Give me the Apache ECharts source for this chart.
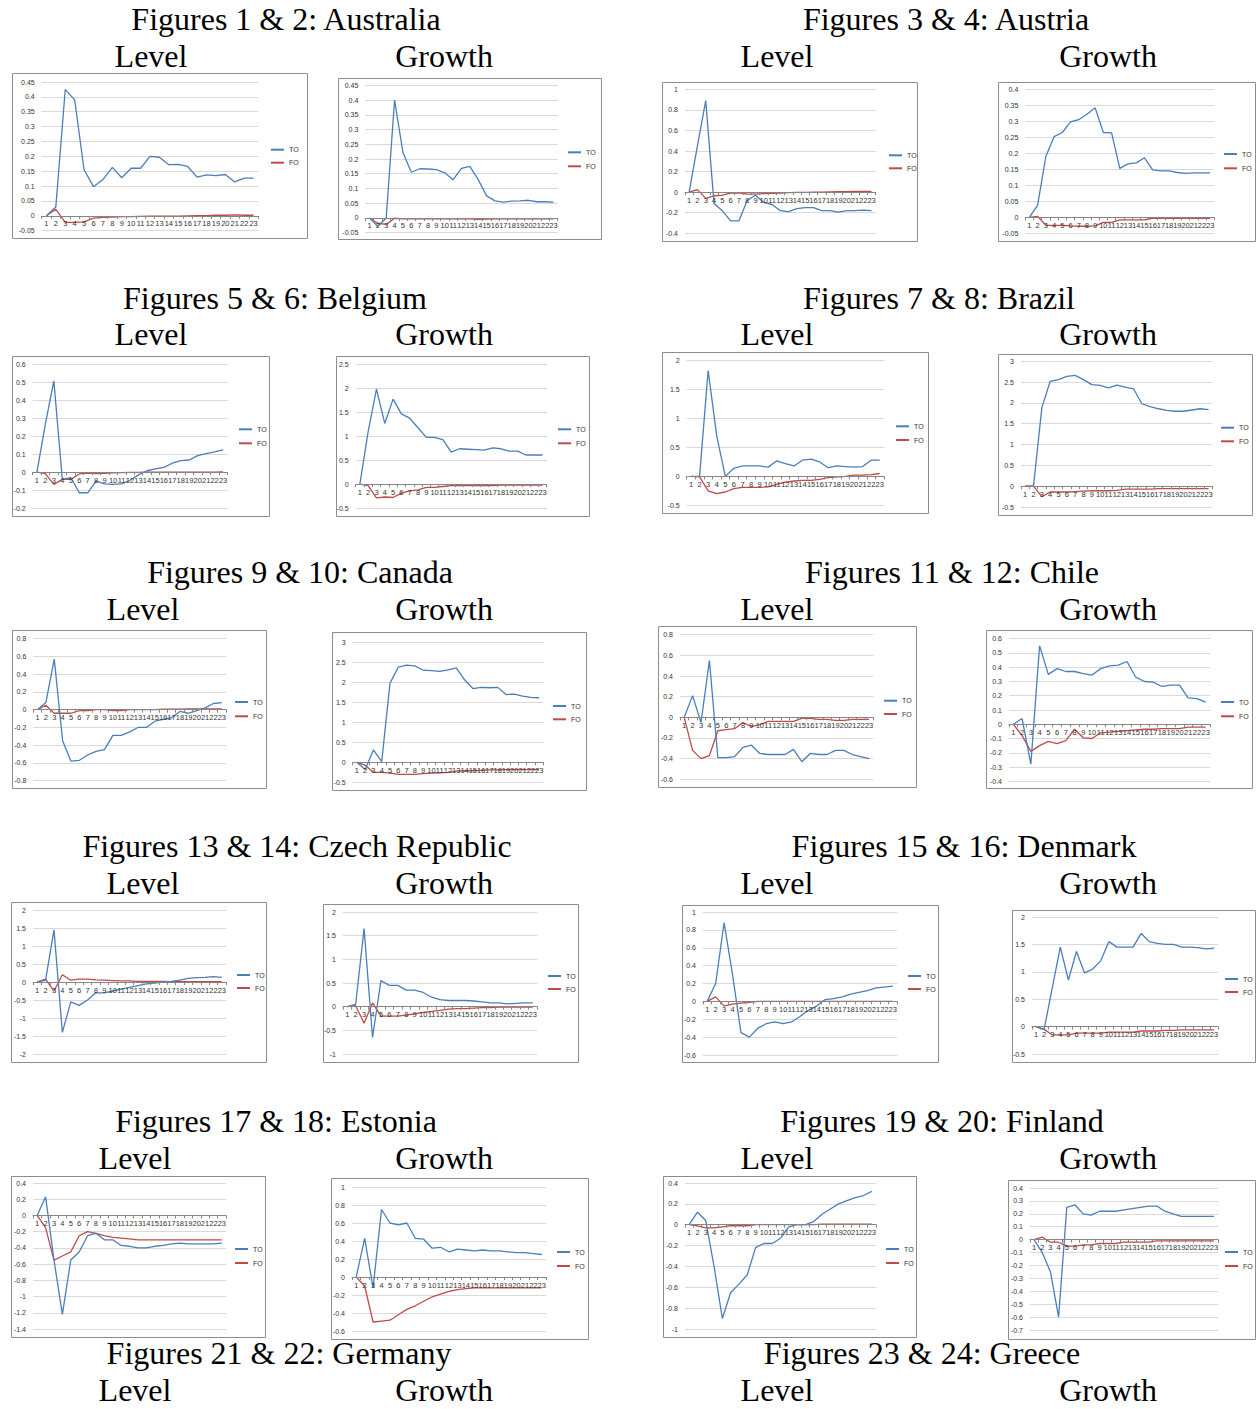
<!DOCTYPE html>
<html><head><meta charset="utf-8">
<script src="https://cdn.jsdelivr.net/npm/echarts@6/dist/echarts.min.js"></script>
<style>html,body{margin:0;padding:0;background:#fff}#c{width:1256px;height:1409px}</style>
</head><body><div id="c"></div>
<script>
const categories = ['1','2','3','4','5','6','7','8','9','10','11','12','13','14','15','16','17','18','19','20','21','22','23'];

const australiaLevelTO = [0,0.03,0.425,0.39,0.155,0.098,0.122,0.163,0.128,0.16,0.16,0.2,0.197,0.172,0.173,0.166,0.13,0.138,0.135,0.139,0.114,0.127,0.127];
const australiaLevelFO = [0,0.022,-0.022,-0.022,-0.02,-0.008,-0.005,-0.004,-0.003,-0.003,-0.002,-0.001,-0.001,-0.001,-0.001,0,0.001,0.001,0.002,0.002,0.003,0.002,0.002];
const australiaGrowthTO = [0,-0.028,0,0.4,0.222,0.155,0.167,0.166,0.164,0.153,0.13,0.168,0.175,0.13,0.075,0.058,0.054,0.057,0.058,0.06,0.055,0.055,0.054];
const australiaGrowthFO = [0,-0.018,-0.022,-0.001,-0.003,-0.003,-0.003,-0.003,-0.003,-0.003,-0.003,-0.003,-0.003,-0.005,-0.004,-0.003,-0.003,-0.003,-0.003,-0.003,-0.003,-0.003,-0.003];

const austriaLevelTO = [0,0.45,0.89,-0.11,-0.18,-0.28,-0.28,-0.08,-0.03,-0.1,-0.12,-0.18,-0.19,-0.16,-0.15,-0.15,-0.18,-0.18,-0.195,-0.18,-0.18,-0.175,-0.18];
const austriaLevelFO = [0,0.025,-0.06,-0.035,-0.03,-0.01,-0.008,-0.02,-0.02,-0.015,-0.012,-0.008,-0.005,-0.003,-0.002,-0.001,0,0.002,0.004,0.006,0.008,0.008,0.008];
const austriaGrowthTO = [0,0.038,0.19,0.252,0.265,0.298,0.305,0.322,0.342,0.265,0.264,0.153,0.167,0.17,0.186,0.148,0.145,0.145,0.14,0.137,0.139,0.139,0.139];
const austriaGrowthFO = [0,0.003,-0.025,-0.025,-0.025,-0.027,-0.028,-0.028,-0.027,-0.016,-0.016,-0.008,-0.008,-0.008,-0.008,-0.003,-0.003,-0.003,-0.003,-0.003,-0.003,-0.003,-0.003];

const belgiumLevelTO = [0,0.27,0.51,-0.04,-0.03,-0.115,-0.115,-0.05,-0.065,-0.068,-0.065,-0.045,-0.015,0.008,0.018,0.027,0.05,0.065,0.068,0.092,0.103,0.113,0.125];
const belgiumLevelFO = [0,-0.008,-0.068,-0.04,-0.04,-0.01,-0.005,-0.008,-0.006,-0.004,-0.002,-0.001,-0.001,0,0,0,0,0,0,0,0,0,0.001];
const belgiumGrowthTO = [0,1.1,1.99,1.27,1.78,1.47,1.38,1.18,0.98,0.98,0.93,0.67,0.74,0.73,0.72,0.71,0.76,0.74,0.69,0.69,0.61,0.61,0.61];
const belgiumGrowthFO = [0,-0.03,-0.29,-0.27,-0.28,-0.19,-0.14,-0.12,-0.07,-0.07,-0.05,-0.03,-0.03,-0.03,-0.03,-0.03,-0.03,-0.02,-0.02,-0.02,-0.02,-0.02,-0.02];

const brazilLevelTO = [0,0,1.83,0.7,0,0.14,0.18,0.18,0.18,0.16,0.27,0.22,0.18,0.28,0.3,0.25,0.15,0.18,0.17,0.16,0.17,0.28,0.28];
const brazilLevelFO = [0,-0.01,-0.25,-0.3,-0.27,-0.21,-0.19,-0.19,-0.19,-0.18,-0.14,-0.1,-0.08,-0.07,-0.07,-0.05,-0.02,-0.01,0,0.02,0.02,0.03,0.05];
const brazilGrowthTO = [0,0,1.88,2.52,2.56,2.64,2.66,2.56,2.44,2.42,2.36,2.43,2.38,2.34,1.98,1.91,1.86,1.82,1.8,1.8,1.83,1.86,1.84];
const brazilGrowthFO = [0,0,-0.25,-0.14,-0.14,-0.14,-0.13,-0.12,-0.11,-0.11,-0.11,-0.1,-0.07,-0.07,-0.07,-0.07,-0.06,-0.06,-0.06,-0.06,-0.06,-0.06,-0.06];

const canadaLevelTO = [0,0.08,0.57,-0.35,-0.58,-0.57,-0.51,-0.47,-0.45,-0.29,-0.29,-0.25,-0.2,-0.2,-0.13,-0.11,-0.09,-0.02,-0.04,-0.01,0.02,0.07,0.08];
const canadaLevelFO = [0,0.05,-0.04,-0.04,-0.04,-0.01,-0.01,0,0,-0.01,-0.01,0,0,0,0,0.005,0.005,0.005,0.01,0.01,0.01,0.01,0.01];
const canadaGrowthTO = [0,-0.18,0.31,0.02,1.98,2.39,2.44,2.42,2.31,2.3,2.28,2.32,2.37,2.07,1.85,1.88,1.87,1.88,1.7,1.71,1.66,1.63,1.62];
const canadaGrowthFO = [0,-0.07,-0.25,-0.25,-0.27,-0.3,-0.3,-0.3,-0.28,-0.27,-0.26,-0.25,-0.22,-0.21,-0.21,-0.2,-0.19,-0.19,-0.18,-0.18,-0.18,-0.18,-0.18];

const chileLevelTO = [0,0.21,-0.05,0.55,-0.39,-0.39,-0.38,-0.29,-0.27,-0.35,-0.36,-0.36,-0.36,-0.31,-0.43,-0.35,-0.36,-0.36,-0.32,-0.32,-0.36,-0.38,-0.4];
const chileLevelFO = [0,-0.32,-0.4,-0.37,-0.13,-0.12,-0.11,-0.05,-0.09,-0.07,-0.04,-0.04,-0.04,-0.04,-0.01,-0.01,-0.02,-0.02,-0.03,-0.03,-0.02,-0.02,-0.02];
const chileGrowthTO = [0,0.04,-0.28,0.55,0.35,0.39,0.37,0.37,0.355,0.345,0.39,0.41,0.415,0.44,0.33,0.3,0.295,0.265,0.275,0.275,0.185,0.18,0.155];
const chileGrowthFO = [0,-0.08,-0.19,-0.15,-0.12,-0.135,-0.115,-0.035,-0.095,-0.1,-0.06,-0.055,-0.05,-0.045,-0.04,-0.035,-0.035,-0.03,-0.03,-0.03,-0.02,-0.02,-0.02];

const czechLevelTO = [0,0.05,1.45,-1.4,-0.55,-0.65,-0.5,-0.3,-0.3,-0.25,-0.2,-0.15,-0.1,-0.05,-0.03,0,0.02,0.05,0.1,0.12,0.13,0.15,0.13];
const czechLevelFO = [0,0.08,-0.25,0.2,0.05,0.08,0.08,0.06,0.05,0.04,0.03,0.03,0.02,0.02,0.02,0.02,0.01,0.01,0.01,0.01,0.01,0.01,0.01];
const czechGrowthTO = [0,0.05,1.65,-0.65,0.55,0.45,0.45,0.35,0.35,0.3,0.2,0.15,0.13,0.13,0.13,0.12,0.1,0.08,0.08,0.06,0.07,0.08,0.08];
const czechGrowthFO = [0,0.02,-0.35,0.08,-0.2,-0.2,-0.2,-0.18,-0.15,-0.12,-0.1,-0.08,-0.05,-0.04,-0.04,-0.03,-0.02,-0.02,-0.01,-0.01,-0.01,-0.01,-0.01];

const denmarkLevelTO = [0,0.2,0.88,0.3,-0.35,-0.4,-0.3,-0.25,-0.23,-0.25,-0.23,-0.17,-0.1,-0.05,0.02,0.03,0.05,0.08,0.1,0.12,0.15,0.16,0.17];
const denmarkLevelFO = [0,0.05,-0.05,-0.03,-0.02,-0.01,0,0,0,0,0,0,0,0,0,0,0,0,0,0,0,0,0];
const denmarkGrowthTO = [0,-0.05,0.7,1.45,0.85,1.37,0.98,1.05,1.2,1.55,1.45,1.45,1.45,1.7,1.55,1.52,1.5,1.5,1.45,1.45,1.44,1.42,1.43];
const denmarkGrowthFO = [0,-0.05,-0.15,-0.15,-0.15,-0.12,-0.12,-0.12,-0.12,-0.1,-0.1,-0.1,-0.1,-0.08,-0.08,-0.08,-0.07,-0.07,-0.06,-0.06,-0.06,-0.06,-0.06];

const estoniaLevelTO = [0,0.23,-0.55,-1.22,-0.55,-0.45,-0.25,-0.22,-0.3,-0.3,-0.37,-0.38,-0.4,-0.4,-0.38,-0.37,-0.35,-0.34,-0.35,-0.35,-0.35,-0.35,-0.34];
const estoniaLevelFO = [0,-0.15,-0.55,-0.5,-0.45,-0.25,-0.2,-0.22,-0.25,-0.27,-0.28,-0.29,-0.3,-0.3,-0.3,-0.3,-0.3,-0.3,-0.3,-0.3,-0.3,-0.3,-0.3];
const estoniaGrowthTO = [0,0.43,-0.12,0.75,0.6,0.58,0.6,0.43,0.42,0.32,0.33,0.28,0.31,0.3,0.29,0.3,0.29,0.29,0.28,0.27,0.27,0.26,0.25];
const estoniaGrowthFO = [0,-0.1,-0.5,-0.49,-0.48,-0.42,-0.36,-0.32,-0.27,-0.22,-0.19,-0.16,-0.14,-0.13,-0.12,-0.12,-0.12,-0.12,-0.12,-0.12,-0.12,-0.12,-0.12];

const finlandLevelTO = [0,0.12,0.04,-0.4,-0.9,-0.65,-0.57,-0.48,-0.22,-0.18,-0.18,-0.13,-0.02,0,0,0.03,0.1,0.15,0.2,0.23,0.26,0.28,0.32];
const finlandLevelFO = [0,-0.01,-0.03,-0.03,-0.02,-0.01,-0.01,-0.01,0,0,0,0,0,0,0,0,0.005,0.005,0.005,0.005,0.005,0.005,0.005];
const finlandGrowthTO = [0,-0.1,-0.25,-0.6,0.25,0.27,0.2,0.19,0.22,0.22,0.22,0.23,0.24,0.25,0.26,0.26,0.22,0.2,0.18,0.18,0.18,0.18,0.18];
const finlandGrowthFO = [0,0.02,-0.02,-0.02,-0.05,-0.05,-0.04,-0.04,-0.03,-0.03,-0.03,-0.02,-0.02,-0.02,-0.02,-0.01,-0.01,-0.01,-0.01,-0.01,-0.01,-0.01,-0.01];

// y-axis tick ranges [min, max, interval]
const yTicks = [
  [-0.05,0.45,0.05],[-0.05,0.45,0.05],[-0.4,1,0.2],[-0.05,0.4,0.05],
  [-0.2,0.6,0.1],[-0.5,2.5,0.5],[-0.5,2,0.5],[-0.5,3,0.5],
  [-0.8,0.8,0.2],[-0.5,3,0.5],[-0.6,0.8,0.2],[-0.4,0.6,0.1],
  [-2,2,0.5],[-1,2,0.5],[-0.6,1,0.2],[-0.5,2,0.5],
  [-1.4,0.4,0.2],[-0.6,1,0.2],[-1,0.4,0.2],[-0.7,0.4,0.1]
];
const seriesTO = [australiaLevelTO,australiaGrowthTO,austriaLevelTO,austriaGrowthTO,belgiumLevelTO,belgiumGrowthTO,brazilLevelTO,brazilGrowthTO,canadaLevelTO,canadaGrowthTO,chileLevelTO,chileGrowthTO,czechLevelTO,czechGrowthTO,denmarkLevelTO,denmarkGrowthTO,estoniaLevelTO,estoniaGrowthTO,finlandLevelTO,finlandGrowthTO];
const seriesFO = [australiaLevelFO,australiaGrowthFO,austriaLevelFO,austriaGrowthFO,belgiumLevelFO,belgiumGrowthFO,brazilLevelFO,brazilGrowthFO,canadaLevelFO,canadaGrowthFO,chileLevelFO,chileGrowthFO,czechLevelFO,czechGrowthFO,denmarkLevelFO,denmarkGrowthFO,estoniaLevelFO,estoniaGrowthFO,finlandLevelFO,finlandGrowthFO];

const titles = [
  ['Figures 1 & 2: Australia',286,19],['Figures 3 & 4: Austria',946,19],
  ['Figures 5 & 6: Belgium',275,298],['Figures 7 & 8: Brazil',939,298],
  ['Figures 9 & 10: Canada',300,572],['Figures 11 & 12: Chile',952,572],
  ['Figures 13 & 14: Czech Republic',297,846],['Figures 15 & 16: Denmark',964,846],
  ['Figures 17 & 18: Estonia',276,1121],['Figures 19 & 20: Finland',942,1121],
  ['Figures 21 & 22: Germany',279,1353],['Figures 23 & 24: Greece',922,1353]
];
const subRows = [[56,151],[334,151],[609,143],[883,143],[1158,135],[1390,135]];

// layout: box [x1,y1,x2,y2], plot [L,R,T,B], legend [x, yTO, yFO]
const layout = [
  {box:[12.5,73.5,307.5,238.5], plot:[41.7,258.3,82,230.7], leg:[271,149.7,162.7]},
  {box:[338.5,78.5,601.5,239.5], plot:[365.3,557.7,85.3,232.7], leg:[568,152.3,166.3]},
  {box:[662.5,82.5,917.5,241.5], plot:[685,875.7,89.3,233.3], leg:[889,155.3,168.3]},
  {box:[998.5,82.5,1255.5,241.5], plot:[1025.3,1214.3,89.3,233.3], leg:[1224,154,168.3]},
  {box:[12.5,356.5,269.5,516.5], plot:[32.7,227.3,364.7,508], leg:[239,429.3,443.3]},
  {box:[336.5,356.5,589.5,516.5], plot:[355.7,546.7,364.7,508], leg:[558,429.3,443.3]},
  {box:[662.5,352.5,928.5,513.5], plot:[686.7,884,360.7,505.3], leg:[896,426.3,440]},
  {box:[998.5,354.5,1252.5,515.5], plot:[1021,1212.7,361.3,507], leg:[1221,427.7,441.3]},
  {box:[12.5,630.5,266.5,788.5], plot:[33.3,226,638.7,780.7], leg:[235,702,716.3]},
  {box:[332.5,632.5,586.5,790.5], plot:[352.7,543.3,642.7,782.3], leg:[553,706,719.3]},
  {box:[658.5,626.5,916.5,787.5], plot:[680,873.3,634.7,779.3], leg:[884,700.7,714]},
  {box:[986.5,630.5,1252.5,788.5], plot:[1009,1210,638.7,781.3], leg:[1221,702,716.3]},
  {box:[11.5,902.5,266.5,1062.5], plot:[33,226,910,1054], leg:[237,975,988]},
  {box:[323.5,904.5,578.5,1062.5], plot:[343,537,912,1054], leg:[548,976,989]},
  {box:[682.5,905.5,938.5,1062.5], plot:[703,897,912,1055], leg:[908,976,989]},
  {box:[1012.5,910.5,1255.5,1062.5], plot:[1032,1218,917,1054], leg:[1225,979,992]},
  {box:[11.5,1176.5,265.5,1337.5], plot:[33,226,1183,1329], leg:[235,1249,1263]},
  {box:[331.5,1178.5,588.5,1339.5], plot:[352,546,1187,1331], leg:[557,1252,1266]},
  {box:[663.5,1176.5,916.5,1337.5], plot:[685,876,1183,1329], leg:[886,1249,1263]},
  {box:[1008.5,1180.5,1255.5,1339.5], plot:[1030,1218,1188,1330], leg:[1225,1252,1266]}
];

const BLUE = '#4A7EBB', RED = '#BE4B48';
const serif = "'Liberation Serif','Times New Roman',serif";
const sans = "'Liberation Sans',Arial,sans-serif";

const grid = [], xAxis = [], yAxis = [], series = [], legend = [], graphic = [];
layout.forEach((c, i) => {
  const h = c.plot[3]-c.plot[2];
  const yMin = yTicks[i][0], yMax = yTicks[i][1];
  const zeroShift = -(0 - yMin) / (yMax - yMin) * h; // move category axis up to y = 0
  grid.push({left: c.plot[0], top: c.plot[2], width: c.plot[1]-c.plot[0], height: h, containLabel: false});
  xAxis.push({type:'category', gridIndex:i, data:categories, boundaryGap:true, position:'bottom', offset: zeroShift,
    axisLine:{show:true, onZero:false, lineStyle:{color:'#868686', width:1}},
    axisTick:{show:true, length:3, lineStyle:{color:'#868686'}},
    axisLabel:{interval:0, fontSize:7.5, margin:4, color:'#333', fontFamily:sans},
    splitLine:{show:false}, z:4});
  yAxis.push({type:'value', gridIndex:i, min:yMin, max:yMax, interval:yTicks[i][2],
    axisLine:{show:false}, axisTick:{show:false},
    axisLabel:{fontSize:7, margin:7, color:'#333', fontFamily:sans},
    splitLine:{show:true, lineStyle:{color:'#D9D9D9', width:1}}});
  series.push({name:'TO', type:'line', xAxisIndex:i, yAxisIndex:i, data:seriesTO[i], symbol:'none',
    lineStyle:{color:BLUE, width:1.3}, itemStyle:{color:BLUE}, z:3});
  series.push({name:'FO', type:'line', xAxisIndex:i, yAxisIndex:i, data:seriesFO[i], symbol:'none',
    lineStyle:{color:RED, width:1.3}, itemStyle:{color:RED}, z:2});
  legend.push({orient:'vertical', left:c.leg[0], top:c.leg[1]-3.5, padding:0,
    itemGap: (c.leg[2]-c.leg[1]) - 7, itemWidth:13, itemHeight:2, icon:'rect',
    textStyle:{fontSize:7, color:'#333', fontFamily:sans}, selectedMode:false,
    data:[{name:'TO', itemStyle:{color:BLUE}}, {name:'FO', itemStyle:{color:RED}}]});
  graphic.push({type:'rect', silent:true, shape:{x:c.box[0], y:c.box[1], width:c.box[2]-c.box[0], height:c.box[3]-c.box[1]},
    style:{fill:'none', stroke:'#8C8C8C', lineWidth:1}, z:-1});
});

function txt(t, x, y) {
  return {type:'text', x:x, y:y, silent:true,
    style:{text:t, fontSize:32, fontFamily:serif, fill:'#000',
      textAlign:'center', textVerticalAlign:'middle', align:'center', verticalAlign:'middle'}};
}
titles.forEach(t => graphic.push(txt(t[0], t[1], t[2])));
subRows.forEach(r => {
  graphic.push(txt('Level', r[1], r[0]));
  graphic.push(txt('Growth', 444, r[0]));
  graphic.push(txt('Level', 777, r[0]));
  graphic.push(txt('Growth', 1108, r[0]));
});

const chart = echarts.init(document.getElementById('c'), null, {renderer:'svg', width:1256, height:1409});
chart.setOption({animation:false, backgroundColor:'#fff', grid, xAxis, yAxis, series, legend, graphic});
</script></body></html>
